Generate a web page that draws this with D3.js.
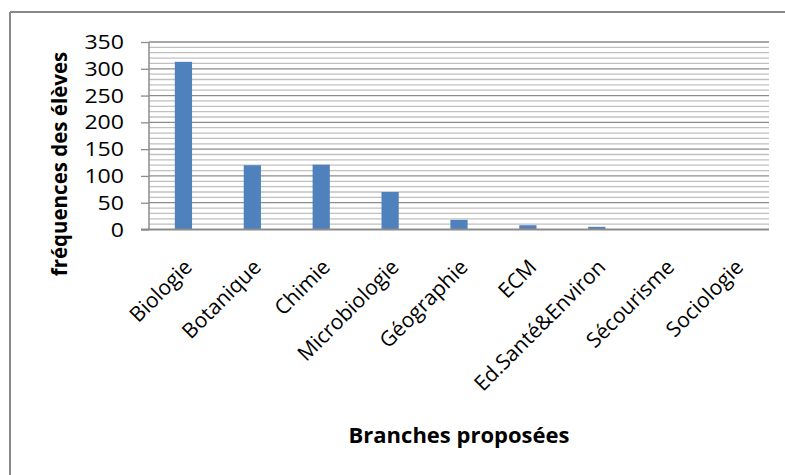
<!DOCTYPE html>
<html><head><meta charset="utf-8">
<script src="https://cdn.jsdelivr.net/npm/d3@7"></script>
<style>body{margin:0;background:#fff}svg{display:block}text{font-family:"Open Sans",sans-serif}</style>
</head><body>
<svg id="c" width="785" height="475"></svg>
<script>
const categories = ["Biologie","Botanique","Chimie","Microbiologie","Géographie","ECM","Ed.Santé&Environ","Sécourisme","Sociologie"];
const values = [313,120,121,70,18,8,5,0,0];
const yTicks = [0,50,100,150,200,250,300,350];
const yTitle = "fréquences des élèves";
const xTitle = "Branches proposées";

const svg = d3.select("#c");
const m = {left:149, right:769, top:42, bottom:229.5};

// outer frame (left and top visible)
svg.append("line").attr("x1",10).attr("x2",10).attr("y1",12).attr("y2",475).attr("stroke","#898989").attr("stroke-width",2);
svg.append("line").attr("x1",10).attr("x2",785).attr("y1",12).attr("y2",12).attr("stroke","#898989").attr("stroke-width",2);

const x = d3.scaleBand().domain(categories).range([m.left,m.right]).paddingInner(0.75).paddingOuter(0.375);
const y = d3.scaleLinear().domain([0,350]).range([m.bottom,m.top]);

// minor gridlines
const minor = d3.range(0,351,10).filter(v=>v%50!==0);
svg.append("g").selectAll("line").data(minor).join("line")
  .attr("x1",m.left).attr("x2",m.right).attr("y1",d=>y(d)).attr("y2",d=>y(d))
  .attr("stroke","#c0c0c0").attr("stroke-width",1.3);
// major gridlines
svg.append("g").selectAll("line").data(yTicks.filter(v=>v>0)).join("line")
  .attr("x1",m.left).attr("x2",m.right).attr("y1",d=>y(d)).attr("y2",d=>y(d))
  .attr("stroke","#8c8c8c").attr("stroke-width",1.3);

// bars
svg.append("g").selectAll("rect").data(values).join("rect")
  .attr("x",(d,i)=>x(categories[i])).attr("width",x.bandwidth())
  .attr("y",d=>y(d)).attr("height",d=>y(0)-y(d)).attr("fill","#4f81bd");

// y axis
const ya = svg.append("g").attr("transform",`translate(${m.left},0)`)
  .call(d3.axisLeft(y).tickValues(yTicks).tickSize(8).tickPadding(16));
ya.select(".domain").attr("stroke","#8c8c8c").attr("stroke-width",1.5).attr("d",`M0,${m.top}V${m.bottom}`);
ya.selectAll(".tick line").attr("stroke","#8c8c8c").attr("stroke-width",1.3).attr("x2",-8);
ya.selectAll(".tick text").attr("font-size",20.5).attr("fill","#000").attr("font-family","'Open Sans',sans-serif")
  .attr("x",-25).attr("textLength",d=>String(d).length*13.2).attr("lengthAdjust","spacingAndGlyphs");

// x axis
const xa = svg.append("g").attr("transform",`translate(0,${m.bottom})`)
  .call(d3.axisBottom(x).tickSize(0).tickSizeOuter(0));
xa.select(".domain").attr("stroke","#8c8c8c").attr("stroke-width",2).attr("d",`M${m.left-8},0H${m.right}`);
xa.selectAll(".tick text").attr("font-size",21).attr("fill","#000").attr("font-family","'Open Sans',sans-serif")
  .attr("text-anchor","end").attr("dy",0).attr("y",0)
  .attr("transform","translate(10,39) rotate(-45)");

// axis titles
svg.append("text").attr("transform",`translate(67,164) rotate(-90)`)
  .attr("text-anchor","middle").attr("font-size",20.5).attr("font-weight","bold").text(yTitle);
svg.append("text").attr("x",459).attr("y",443).attr("text-anchor","middle")
  .attr("font-size",22).attr("font-weight","bold").text(xTitle);
</script>
</body></html>
